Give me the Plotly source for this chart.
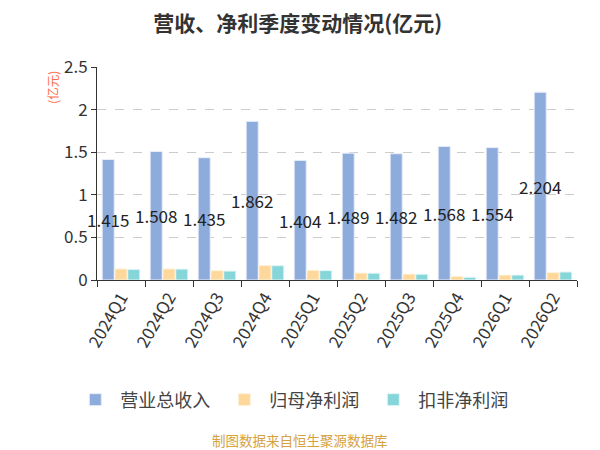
import plotly.graph_objects as go

# 季度
quarters = ['2024Q1', '2024Q2', '2024Q3', '2024Q4', '2025Q1',
            '2025Q2', '2025Q3', '2025Q4', '2026Q1', '2026Q2']

# 营业总收入 (亿元)
revenue = [1.415, 1.508, 1.435, 1.862, 1.404, 1.489, 1.482, 1.568, 1.554, 2.204]
# 归母净利润 (亿元)
net_profit = [0.13, 0.13, 0.11, 0.17, 0.114, 0.082, 0.07, 0.043, 0.058, 0.086]
# 扣非净利润 (亿元)
net_profit_ex = [0.125, 0.128, 0.105, 0.168, 0.11, 0.08, 0.068, 0.032, 0.058, 0.094]

FONT = "Noto Sans CJK SC"

fig = go.Figure()

fig.add_trace(go.Bar(
    x=quarters, y=revenue, name='营业总收入',
    marker=dict(color='#8eacdb', line=dict(color='#e8eef8', width=1)),
    text=[f'{v:.3f}' for v in revenue],
    textposition='inside', insidetextanchor='middle', constraintext='none',
    textangle=0, cliponaxis=False,
    textfont=dict(color='#222222', size=17, family=FONT),
))
fig.add_trace(go.Bar(
    x=quarters, y=net_profit, name='归母净利润',
    marker=dict(color='#fed89a', line=dict(color='#fff3de', width=1)),
))
fig.add_trace(go.Bar(
    x=quarters, y=net_profit_ex, name='扣非净利润',
    marker=dict(color='#86d5d8', line=dict(color='#e3f6f7', width=1)),
))

# the page body has an 8px margin, so the figure is shifted by 8px
fig.update_layout(
    width=600, height=450,
    paper_bgcolor='white', plot_bgcolor='white',
    margin=dict(l=89, r=31, t=59, b=178, autoexpand=False),
    font=dict(family=FONT, color='#333333'),
    barmode='group', bargap=0.2, bargroupgap=0.06,
    title=dict(text='<b>营收、净利季度变动情况(亿元)</b>', x=0.483, xanchor='center',
               y=0.965, yanchor='middle', font=dict(size=21, color='#333333')),
    showlegend=True,
    legend=dict(orientation='h', x=0.41, xanchor='center', yref='container',
                y=0.129, yanchor='middle', entrywidth=94,
                font=dict(size=18, color='#444444'), itemwidth=40),
)

fig.update_xaxes(
    type='category', tickangle=-60, tickson='boundaries', ticks='outside',
    ticklen=6, tickcolor='#333333', showline=True, linecolor='#333333',
    linewidth=1, showgrid=False, tickfont=dict(size=17, color='#333333'),
    automargin=False,
)
fig.update_yaxes(
    range=[0, 2.5], dtick=0.5, showline=True, linecolor='#333333', linewidth=1,
    ticks='outside', ticklen=5, tickcolor='#333333',
    showgrid=True, gridcolor='#cccccc', griddash='dash', zeroline=False,
    tickfont=dict(size=17, color='#333333'), automargin=False,
)

fig.add_annotation(text='(亿元)', xref='paper', yref='paper', x=-0.094, y=0.906,
                   xanchor='center', yanchor='middle', textangle=-90, showarrow=False,
                   font=dict(size=12.5, color='#ff6e4a', family=FONT))
fig.add_annotation(text='制图数据来自恒生聚源数据库', xref='paper', yref='paper',
                   x=0.423, y=-0.751, xanchor='center', yanchor='middle', showarrow=False,
                   font=dict(size=13.5, color='#d6a23e', family=FONT))

fig.write_html("out.html")
